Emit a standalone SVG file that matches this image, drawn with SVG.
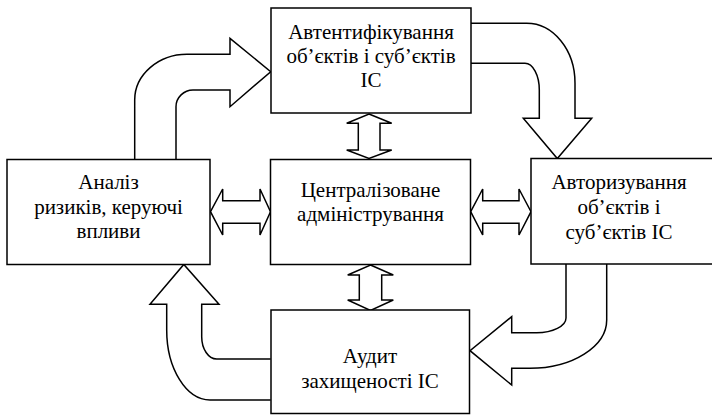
<svg xmlns="http://www.w3.org/2000/svg" width="712" height="415" viewBox="0 0 712 415">
<style>
.box{fill:#fff;stroke:#000;stroke-width:1.5}
.arr{fill:#fff;stroke:#000;stroke-width:1.5;stroke-linejoin:miter}
.t{font-family:'Liberation Serif','Times New Roman',serif;font-size:21px;fill:#000;text-anchor:middle}
</style>
<rect width="712" height="415" fill="#fff"/>
<g id="connectors">
<path class="arr" d="M134.7,160 L134.7,100 C134.7,74.7 158.4,54.3 187,54.3 L230,54.3 L230,38.3 L270.7,71.7 L230,106.7 L230,90 L193,90 C183.9,90 176,97.5 176,106.7 L176,160"/>
<path class="arr" d="M471,23.3 L526.7,23.3 C553.3,23.3 575,50 575,83 L575,118.3 L591.7,118.3 L557.3,158.5 L523.3,118.3 L539.3,118.3 L539.3,90 C539.3,75.3 532.9,63.3 525,63.3 L471,63.3"/>
<path class="arr" d="M566,264 L566,318 C566,326 552.8,332.7 536.7,332.7 L511.7,332.7 L511.7,316.7 L470,350.7 L511.7,385 L511.7,368.3 L530,368.3 C572.2,368.3 606.7,346.6 606.7,320 L606.7,264"/>
<path class="arr" d="M270.7,359 L216.7,359 C208.5,359 201.7,349 201.7,336.7 L201.7,304.3 L219,304.3 L183.8,264.5 L150,304.3 L166.7,304.3 L166.7,330 C166.7,368.5 186.2,400 210,400 L270.7,400"/>
<path class="arr" d="M369,114 L391.7,123.3 L380,123.3 L380,150 L391.7,150 L369,158.5 L346.7,150 L358.3,150 L358.3,123.3 L346.7,123.3 Z"/>
<path class="arr" d="M370.5,265 L393.3,275 L381.7,275 L381.7,300 L393.3,300 L370.5,310.5 L347.7,300 L359.3,300 L359.3,275 L347.7,275 Z"/>
<path class="arr" d="M210.5,211.7 L222.7,189 L222.7,200.7 L260,200.7 L260,189 L270.5,211.7 L260,235 L260,223.3 L222.7,223.3 L222.7,235 Z"/>
<path class="arr" d="M470.7,211.7 L482.7,189 L482.7,200.7 L519,200.7 L519,189 L531,211.7 L519,235 L519,223.3 L482.7,223.3 L482.7,235 Z"/>
</g>
<g id="node-auth">
<rect class="box" x="271" y="8" width="200" height="105"/>
<text class="t" x="371" y="39">Автентифікування</text>
<text class="t" x="371" y="63">об’єктів і суб’єктів</text>
<text class="t" x="371" y="87">ІС</text>
</g>
<g id="node-analysis">
<rect class="box" x="7" y="159.5" width="203" height="105"/>
<text class="t" x="108.5" y="189">Аналіз</text>
<text class="t" x="108.5" y="213.5">ризиків, керуючі</text>
<text class="t" x="108.5" y="238">впливи</text>
</g>
<g id="node-admin">
<rect class="box" x="270.5" y="159.5" width="200" height="105"/>
<text class="t" x="370.5" y="197">Централізоване</text>
<text class="t" x="370.5" y="221">адміністрування</text>
</g>
<g id="node-authz">
<rect class="box" x="531" y="158.5" width="190" height="105.5"/>
<text class="t" x="619" y="189">Авторизування</text>
<text class="t" x="619" y="214">об’єктів і</text>
<text class="t" x="619" y="238.5">суб’єктів ІС</text>
</g>
<g id="node-audit">
<rect class="box" x="271" y="310" width="198.5" height="103.5"/>
<text class="t" x="370" y="363">Аудит</text>
<text class="t" x="370" y="388">захищеності ІС</text>
</g>
</svg>
